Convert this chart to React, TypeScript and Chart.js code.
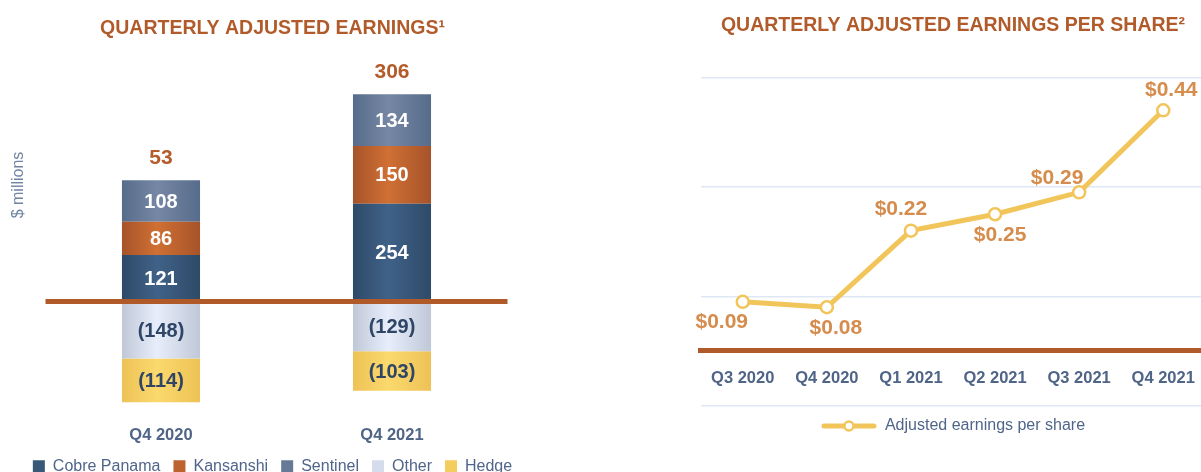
import React, { useEffect, useRef } from "react";
import { Chart, registerables } from "chart.js";

Chart.register(...registerables);

// ---------------- data ----------------
const earningsQuarters = ["Q4 2020", "Q4 2021"];
const cobrePanama = [121, 254];
const kansanshi = [86, 150];
const sentinel = [108, 134];
const other = [-148, -129];
const hedge = [-114, -103];
const earningsRange = [-300, 600];

const epsQuarters = ["Q3 2020", "Q4 2020", "Q1 2021", "Q2 2021", "Q3 2021", "Q4 2021"];
const epsValues = [0.09, 0.08, 0.22, 0.25, 0.29, 0.44];
const epsRange = [-0.1, 0.5];
const epsGridValues = [-0.1, 0.1, 0.3, 0.5];

// ---------------- style ----------------
const FONT = '"Liberation Sans", Arial, Helvetica, sans-serif';
const BROWN = "#B05A2A";
const TITLE_COLOR = "#B15B2B";
const AXIS_TEXT = "#4F6486";
const LEGEND_TEXT = "#50658A";
const CAPTION = "#7185A3";
const NEG_TEXT = "#2E4566";
const TOTAL_TEXT = "#B35B2A";
const EPS_LABEL = "#D58C4C";
const YELLOW = "#F2C55A";
const GRID = "#DFE7F6";
const BAR_PCT = 0.338;
const EPS_LABEL_OFFSETS = [
  [-21, 20],
  [9, 21],
  [-10, -21],
  [5, 21],
  [-22, -14],
  [8, -20],
];

const seriesStyles = [
  { label: "Cobre Panama", data: cobrePanama, edge: "#2E4A68", mid: "#406288", solid: "#385878" },
  { label: "Kansanshi", data: kansanshi, edge: "#A6532A", mid: "#D07034", solid: "#BD632F" },
  { label: "Sentinel", data: sentinel, edge: "#576C8B", mid: "#7587A4", solid: "#667A98" },
  { label: "Other", data: other, edge: "#C0C8D7", mid: "#E7EDFB", solid: "#D5DCEB" },
  { label: "Hedge", data: hedge, edge: "#EDC256", mid: "#FBD96D", solid: "#F4CD5F" },
];

Chart.defaults.font.family = FONT;

function gradientFill(edge: string, mid: string) {
  return (ctx: any) => {
    const chart = ctx.chart;
    const xs = chart.scales && chart.scales.x;
    if (ctx.type !== "data" || !xs || !chart.chartArea) return mid;
    const cx = xs.getPixelForValue(ctx.dataIndex);
    const half = ((xs.width / earningsQuarters.length) * BAR_PCT) / 2;
    if (!isFinite(cx) || !isFinite(half)) return mid;
    const g = chart.ctx.createLinearGradient(cx - half, 0, cx + half, 0);
    g.addColorStop(0, edge);
    g.addColorStop(0.45, mid);
    g.addColorStop(1, edge);
    return g;
  };
}

const earningsLabelsPlugin = {
  id: "earningsLabels",
  afterDatasetsDraw(chart: any) {
    const { ctx, chartArea, scales } = chart;
    const y0 = scales.y.getPixelForValue(0);
    ctx.save();
    ctx.strokeStyle = BROWN;
    ctx.lineWidth = 5;
    ctx.beginPath();
    ctx.moveTo(chartArea.left, y0);
    ctx.lineTo(chartArea.right, y0);
    ctx.stroke();

    ctx.textAlign = "center";
    ctx.textBaseline = "middle";
    ctx.font = `bold 20px ${FONT}`;
    chart.data.datasets.forEach((ds: any, di: number) => {
      chart.getDatasetMeta(di).data.forEach((el: any, i: number) => {
        const v = ds.data[i] as number;
        ctx.fillStyle = v < 0 ? NEG_TEXT : "#FFFFFF";
        ctx.fillText(v < 0 ? `(${Math.abs(v)})` : String(v), el.x, (el.y + el.base) / 2 + 1);
      });
    });

    ctx.font = `bold 21px ${FONT}`;
    ctx.fillStyle = TOTAL_TEXT;
    earningsQuarters.forEach((_q, i) => {
      const pos = cobrePanama[i] + kansanshi[i] + sentinel[i];
      const total = pos + other[i] + hedge[i];
      const x = scales.x.getPixelForValue(i);
      ctx.fillText(String(total), x, scales.y.getPixelForValue(pos) - 22);
    });

    ctx.translate(chartArea.left - 26.5, 185);
    ctx.rotate(-Math.PI / 2);
    ctx.font = `16px ${FONT}`;
    ctx.fillStyle = CAPTION;
    ctx.fillText("$ millions", 0, 0);
    ctx.restore();
  },
};

const epsLabelsPlugin = {
  id: "epsLabels",
  afterDatasetsDraw(chart: any) {
    const { ctx } = chart;
    const meta = chart.getDatasetMeta(0);
    ctx.save();
    ctx.font = `bold 21px ${FONT}`;
    ctx.fillStyle = EPS_LABEL;
    ctx.textAlign = "center";
    ctx.textBaseline = "middle";
    meta.data.forEach((pt: any, i: number) => {
      const [dx, dy] = EPS_LABEL_OFFSETS[i];
      ctx.fillText("$" + epsValues[i].toFixed(2), pt.x + dx, pt.y + dy);
    });
    ctx.restore();
  },
};

function makeLegendMarker() {
  const c = document.createElement("canvas");
  c.width = 56;
  c.height = 14;
  const g = c.getContext("2d")!;
  g.strokeStyle = YELLOW;
  g.lineWidth = 5;
  g.lineCap = "round";
  g.beginPath();
  g.moveTo(3, 7);
  g.lineTo(53, 7);
  g.stroke();
  g.beginPath();
  g.arc(28, 7, 4.5, 0, Math.PI * 2);
  g.fillStyle = "#FFFFFF";
  g.fill();
  g.lineWidth = 2.5;
  g.stroke();
  return c;
}

function EarningsChart() {
  const ref = useRef<HTMLCanvasElement>(null);
  useEffect(() => {
    const chart = new Chart(ref.current as HTMLCanvasElement, {
      type: "bar",
      data: {
        labels: earningsQuarters,
        datasets: seriesStyles.map((s) => ({
          label: s.label,
          data: s.data,
          backgroundColor: gradientFill(s.edge, s.mid) as any,
          borderWidth: 0,
          barPercentage: BAR_PCT,
          categoryPercentage: 1,
        })),
      },
      options: {
        responsive: false,
        animation: false,
        layout: { padding: { top: 0, left: 0, right: 8, bottom: 5.8 } },
        plugins: {
          title: {
            display: true,
            text: "QUARTERLY ADJUSTED EARNINGS¹",
            color: TITLE_COLOR,
            font: { family: FONT, size: 19.5, weight: "bold" },
            padding: { top: 16.5, bottom: 30.6 },
          },
          legend: {
            position: "bottom",
            labels: {
              boxWidth: 12,
              boxHeight: 12,
              padding: 13,
              color: LEGEND_TEXT,
              font: { family: FONT, size: 16 },
              generateLabels: () =>
                seriesStyles.map((s, i) => ({
                  text: s.label,
                  fillStyle: s.solid,
                  strokeStyle: s.solid,
                  lineWidth: 0,
                  hidden: false,
                  datasetIndex: i,
                  fontColor: LEGEND_TEXT,
                })),
            },
          },
          tooltip: { enabled: false },
        },
        scales: {
          x: {
            stacked: true,
            grid: { display: false, drawTicks: false },
            border: { display: false },
            ticks: {
              color: AXIS_TEXT,
              font: { family: FONT, size: 16.5, weight: "bold" },
              padding: 8.4,
            },
            afterFit: (s: any) => {
              s.height = 28.2;
            },
          },
          y: {
            stacked: true,
            min: earningsRange[0],
            max: earningsRange[1],
            ticks: { display: false },
            grid: { display: false, drawTicks: false },
            border: { display: false },
            afterFit: (s: any) => {
              s.width = 45.5;
            },
          },
          yPad: {
            type: "linear",
            position: "right",
            ticks: { display: false },
            grid: { display: false, drawTicks: false },
            border: { display: false },
            afterFit: (s: any) => {
              s.width = 37.5;
            },
          },
        },
      } as any,
      plugins: [earningsLabelsPlugin],
    });
    return () => chart.destroy();
  }, []);
  return (
    <canvas
      ref={ref}
      width={553}
      height={490}
      style={{ position: "absolute", left: 0, top: 0, width: 553, height: 490, display: "block" }}
    />
  );
}

function EpsChart() {
  const ref = useRef<HTMLCanvasElement>(null);
  useEffect(() => {
    const marker = makeLegendMarker();
    const chart = new Chart(ref.current as HTMLCanvasElement, {
      type: "line",
      data: {
        labels: epsQuarters,
        datasets: [
          {
            label: "Adjusted earnings per share",
            data: epsValues,
            borderColor: YELLOW,
            borderWidth: 5,
            pointRadius: 6,
            pointBorderWidth: 2.5,
            pointBackgroundColor: "#FFFFFF",
            pointBorderColor: YELLOW,
            tension: 0,
            clip: false as any,
          },
        ],
      },
      options: {
        responsive: false,
        animation: false,
        layout: { padding: { left: 100.7, right: 100.7, top: 0, bottom: 28 } },
        plugins: {
          title: {
            display: true,
            text: "QUARTERLY ADJUSTED EARNINGS PER SHARE²",
            color: TITLE_COLOR,
            font: { family: FONT, size: 19.5, weight: "bold" },
            padding: { top: 13.5, bottom: 40.6 },
          },
          legend: {
            position: "bottom",
            labels: {
              usePointStyle: true,
              pointStyleWidth: 56,
              padding: 12.3,
              color: LEGEND_TEXT,
              font: { family: FONT, size: 16 },
              generateLabels: () => [
                {
                  text: "Adjusted earnings per share",
                  pointStyle: marker as any,
                  fillStyle: YELLOW,
                  strokeStyle: YELLOW,
                  lineWidth: 0,
                  hidden: false,
                  datasetIndex: 0,
                  fontColor: LEGEND_TEXT,
                },
              ],
            },
          },
          tooltip: { enabled: false },
        },
        scales: {
          x: {
            type: "category",
            position: { y: 0 },
            offset: true,
            grid: { display: false, drawTicks: false },
            border: { display: true, color: BROWN, width: 5 },
            ticks: {
              color: AXIS_TEXT,
              font: { family: FONT, size: 16.5, weight: "bold" },
              padding: 17.5,
              autoSkip: false,
              maxRotation: 0,
            },
            afterFit: (s: any) => {
              s.height = 0;
            },
          },
          y: {
            min: epsRange[0],
            max: epsRange[1],
            afterBuildTicks: (s: any) => {
              s.ticks = epsGridValues.map((v) => ({ value: v }));
            },
            ticks: { display: false },
            grid: { color: GRID, lineWidth: 1.5, drawTicks: false },
            border: { display: false },
          },
        },
      } as any,
      plugins: [epsLabelsPlugin],
    });
    return () => chart.destroy();
  }, []);
  return (
    <canvas
      ref={ref}
      width={706}
      height={472}
      style={{ position: "absolute", left: 600, top: 0, width: 706, height: 472, display: "block" }}
    />
  );
}

export default function App() {
  useEffect(() => {
    document.body.style.margin = "0";
    document.body.style.overflow = "hidden";
  }, []);
  return (
    <div
      style={{
        position: "relative",
        width: 1201,
        height: 472,
        overflow: "hidden",
        background: "#FFFFFF",
      }}
    >
      <EarningsChart />
      <EpsChart />
    </div>
  );
}
